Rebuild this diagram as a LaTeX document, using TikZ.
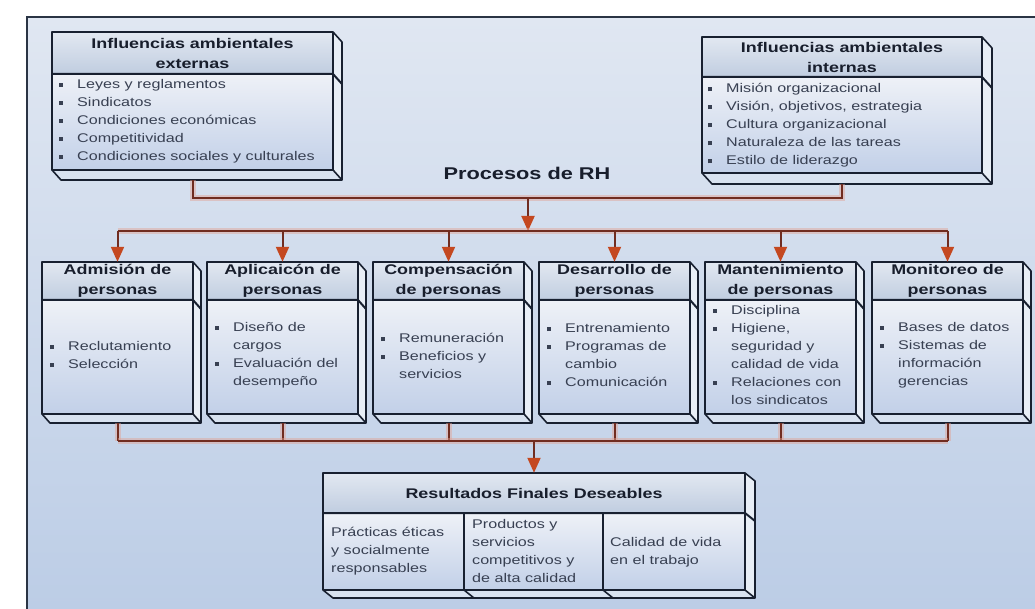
\documentclass[tikz,border=0pt]{standalone}
\usepackage{fontspec}
\setmainfont{Liberation Sans}[FakeStretch=1.28]
\usetikzlibrary{arrows.meta,calc,fit}

\definecolor{framec}{RGB}{42,52,68}
\definecolor{bgtop}{RGB}{224,231,242}
\definecolor{bgbot}{RGB}{188,205,230}
\definecolor{edgec}{RGB}{24,32,48}
\definecolor{headtop}{RGB}{226,232,241}
\definecolor{headbot}{RGB}{192,205,224}
\definecolor{bodytop}{RGB}{238,241,247}
\definecolor{bodybot}{RGB}{194,208,232}
\definecolor{sidec}{RGB}{232,238,246}
\definecolor{bottc}{RGB}{216,226,240}
\definecolor{linkc}{RGB}{112,44,32}
\definecolor{haloc}{RGB}{226,160,146}
\definecolor{tipc}{RGB}{196,72,32}
\definecolor{headtxt}{RGB}{24,30,44}
\definecolor{bodytxt}{RGB}{56,64,82}

\newcommand\bul{\raisebox{0.22ex}{\rule{4pt}{4pt}}}
\newcommand\itm[1]{\makebox[18pt][l]{\bul}#1}
\newcommand\cnt[1]{\hspace*{18pt}#1}

% 3-D slab: #1 name, (#2,#3) front top-left, (#4,#5) front bottom-right,
% #6 y of the header rule, (#7,#8) depth of the extrusion
\newcommand\slab[8]{%
  \coordinate (#1-nw) at (#2,-#3);
  \coordinate (#1-se) at (#4,-#5);
  \fill[sidec] (#4,-#3) -- ({#4+#7},{-#3-#8}) -- ({#4+#7},{-#5-#8}) -- (#4,-#5) -- cycle;
  \fill[bottc] (#2,-#5) -- (#4,-#5) -- ({#4+#7},{-#5-#8}) -- ({#2+#7},{-#5-#8}) -- cycle;
  \shade[top color=headtop,bottom color=headbot] (#2,-#3) rectangle (#4,-#6);
  \shade[top color=bodytop,bottom color=bodybot] (#2,-#6) rectangle (#4,-#5);
  \draw[edge] (#2,-#3) rectangle (#4,-#5);
  \draw[edge] (#4,-#3) -- ({#4+#7},{-#3-#8}) -- ({#4+#7},{-#5-#8}) -- ({#2+#7},{-#5-#8}) -- (#2,-#5);
  \draw[edge] (#4,-#5) -- ({#4+#7},{-#5-#8});
  \draw[rule] (#2,-#6) -- (#4,-#6) -- ({#4+#7},{-#6-#8});
  \node[fit=(#1-nw)(#1-se), inner sep=0pt] (#1) {};
}

\tikzset{
  edge/.style={draw=edgec, line width=1.6pt, line join=round},
  rule/.style={draw=edgec, line width=2pt, line join=round},
  hd/.style={font=\fontsize{14}{20}\selectfont\bfseries, text=headtxt, align=center, inner sep=0pt},
  bd/.style={font=\fontsize{12.6}{18}\selectfont, text=bodytxt, align=left, inner sep=0pt, anchor=west},
  link/.style={draw=linkc, line width=2pt, preaction={draw=haloc, line width=6pt, opacity=0.45}},
  feed/.style={draw=linkc, line width=2pt, -{Triangle[length=15pt,width=13pt,color=tipc]}},
}

\begin{document}
\begin{tikzpicture}[x=1pt,y=1pt]
\useasboundingbox (0,0) rectangle (1035,-609);
\fill[white] (0,0) rectangle (1035,-609);
\shade[top color=bgtop,bottom color=bgbot] (27,-17) rectangle (1035,-609);
\draw[framec, line width=2pt] (27,-609) -- (27,-17) -- (1035,-17);

% environmental influences
\slab{ext}{52}{32}{333}{170}{74}{9}{10}
\slab{int}{702}{37}{982}{173}{77}{10}{11}

\node[hd] (ext-h) at (192.5,-53) {Influencias ambientales\\externas};
\node[bd] (ext-b) at (59,-121) {\itm{Leyes y reglamentos}\\\itm{Sindicatos}\\\itm{Condiciones económicas}\\\itm{Competitividad}\\\itm{Condiciones sociales y culturales}};

\node[hd] (int-h) at (842,-57) {Influencias ambientales\\internas};
\node[bd] (int-b) at (708,-125.5) {\itm{Misión organizacional}\\\itm{Visión, objetivos, estrategia}\\\itm{Cultura organizacional}\\\itm{Naturaleza de las tareas}\\\itm{Estilo de liderazgo}};

\node[font=\fontsize{17}{20}\selectfont\bfseries, text=headtxt, inner sep=0pt] (proc) at (527,-173) {Procesos de RH};

% the six HR processes
\slab{adm}{42}{262}{193}{414}{300}{8}{9}
\slab{apl}{207}{262}{358}{414}{300}{8}{9}
\slab{com}{373}{262}{524}{414}{300}{8}{9}
\slab{des}{539}{262}{690}{414}{300}{8}{9}
\slab{man}{705}{262}{856}{414}{300}{8}{9}
\slab{mon}{872}{262}{1023}{414}{300}{8}{9}

\node[hd] (adm-h) at (117.5,-281) {Admisión de\\personas};
\node[hd] (apl-h) at (282.5,-281) {Aplicaicón de\\personas};
\node[hd] (com-h) at (448.5,-281) {Compensación\\de personas};
\node[hd] (des-h) at (614.5,-281) {Desarrollo de\\personas};
\node[hd] (man-h) at (780.5,-281) {Mantenimiento\\de personas};
\node[hd] (mon-h) at (947.5,-281) {Monitoreo de\\personas};

\node[bd] (adm-b) at (50,-355) {\itm{Reclutamiento}\\\itm{Selección}};
\node[bd] (apl-b) at (215,-355) {\itm{Diseño de}\\\cnt{cargos}\\\itm{Evaluación del}\\\cnt{desempeño}};
\node[bd] (com-b) at (381,-356) {\itm{Remuneración}\\\itm{Beneficios y}\\\cnt{servicios}};
\node[bd] (des-b) at (547,-355) {\itm{Entrenamiento}\\\itm{Programas de}\\\cnt{cambio}\\\itm{Comunicación}};
\node[bd] (man-b) at (713,-355) {\itm{Disciplina}\\\itm{Higiene,}\\\cnt{seguridad y}\\\cnt{calidad de vida}\\\itm{Relaciones con}\\\cnt{los sindicatos}};
\node[bd] (mon-b) at (880,-355) {\itm{Bases de datos}\\\itm{Sistemas de}\\\cnt{información}\\\cnt{gerencias}};

% desired outcomes
\slab{res}{323}{473}{745}{590}{513}{10}{8}
\draw[edge] (464,-513) -- (464,-590) -- (474,-598);
\draw[edge] (603,-513) -- (603,-590) -- (613,-598);
\node[hd] (res-h) at (534,-493) {Resultados Finales Deseables};
\node[bd] (res-a) at (331,-551) {Prácticas éticas\\y socialmente\\responsables};
\node[bd] (res-b) at (472,-551) {Productos y\\servicios\\competitivos y\\de alta calidad};
\node[bd] (res-c) at (610,-552.5) {Calidad de vida\\en el trabajo};

% connectors
\coordinate (ja) at (528,-198);
\coordinate (jb) at (528,-231);
\coordinate (jc) at (534,-441);
\draw[link] ($(ext.south)+(0,-10)$) |- (ja) -| ($(int.south)+(0,-11)$);
\draw[feed] (ja) -- (jb);
\draw[link] (adm.north |- jb) -- (mon.north |- jb);
\foreach \b in {adm,apl,com,des,man,mon}{
  \draw[feed] (\b.north |- jb) -- (\b.north);
  \draw[link] ($(\b.south)+(0,-9)$) -- (\b.south |- jc);
}
\draw[link] (adm.south |- jc) -- (mon.south |- jc);
\draw[feed] (jc) -- (res.north);
\end{tikzpicture}
\end{document}
